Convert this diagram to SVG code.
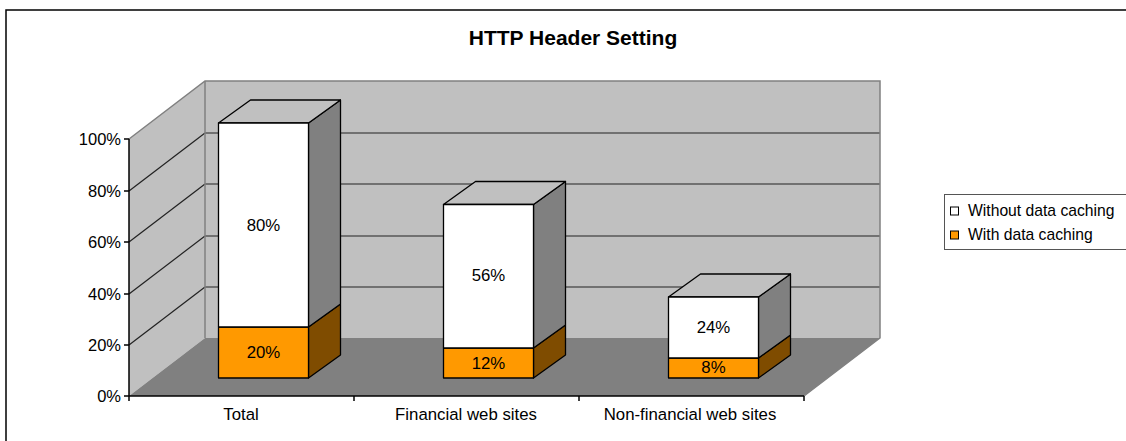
<svg xmlns="http://www.w3.org/2000/svg" width="1126" height="441" viewBox="0 0 1126 441">
  <style>
    text { font-family: "Liberation Sans", Arial, sans-serif; fill: #000; }
    .title { font-size: 21px; font-weight: bold; text-anchor: middle; }
    .ax { font-size: 16.5px; text-anchor: end; }
    .cat { font-size: 16.8px; text-anchor: middle; }
    .val { font-size: 16.8px; text-anchor: middle; }
    .leg { font-size: 15.7px; }
    .edge { stroke: #808080; stroke-width: 1.5; fill: none; }
    .grid { stroke: #222; stroke-width: 1.2; fill: none; }
    .axis { stroke: #000; stroke-width: 1.5; fill: none; }
    .bar { stroke: #000; stroke-width: 1.3; stroke-linejoin: round; }
    .white { fill: #ffffff; }
    .orange { fill: #ff9900; }
    .side { fill: #808080; }
    .sideO { fill: #7f4c00; }
    .top { fill: #c0c0c0; }
  </style>

  <!-- chart frame -->
  <rect x="6" y="10" width="1200" height="500" fill="#fff" stroke="#000" stroke-width="1.5"/>

  <text class="title" x="573" y="45">HTTP Header Setting</text>

  <!-- plot area: walls and floor -->
  <g id="plot">
    <polygon points="129,139 205,81 205,338 129,396" fill="#c0c0c0"/>
    <rect x="205" y="81" width="675" height="257" fill="#c0c0c0"/>
    <polygon points="129,396 804,396 880,338 205,338" fill="#808080"/>

    <!-- gridlines on the side wall -->
    <g class="grid">
      <line x1="129" y1="191" x2="205" y2="133"/>
      <line x1="129" y1="242" x2="205" y2="184"/>
      <line x1="129" y1="294" x2="205" y2="236"/>
      <line x1="129" y1="345" x2="205" y2="287"/>
    </g>
    <!-- gridlines on the back wall -->
    <g class="grid">
      <line x1="205" y1="133" x2="880" y2="133"/>
      <line x1="205" y1="184" x2="880" y2="184"/>
      <line x1="205" y1="236" x2="880" y2="236"/>
      <line x1="205" y1="287" x2="880" y2="287"/>
    </g>
    <!-- wall edges -->
    <polyline class="edge" points="129,139 205,81 880,81 880,338 804,396"/>
    <line class="edge" x1="205" y1="81" x2="205" y2="338"/>

    <!-- axes -->
    <line class="axis" x1="129" y1="139" x2="129" y2="396"/>
    <line class="axis" x1="129" y1="396" x2="804" y2="396"/>
    <g class="axis">
      <line x1="124" y1="139" x2="129" y2="139"/>
      <line x1="124" y1="191" x2="129" y2="191"/>
      <line x1="124" y1="242" x2="129" y2="242"/>
      <line x1="124" y1="294" x2="129" y2="294"/>
      <line x1="124" y1="345" x2="129" y2="345"/>
      <line x1="124" y1="396" x2="129" y2="396"/>
      <line x1="129" y1="396" x2="129" y2="401"/>
      <line x1="354" y1="396" x2="354" y2="401"/>
      <line x1="579" y1="396" x2="579" y2="401"/>
      <line x1="804" y1="396" x2="804" y2="401"/>
    </g>
    <text class="ax" x="121" y="145">100%</text>
    <text class="ax" x="121" y="197">80%</text>
    <text class="ax" x="121" y="248">60%</text>
    <text class="ax" x="121" y="300">40%</text>
    <text class="ax" x="121" y="351">20%</text>
    <text class="ax" x="121" y="402">0%</text>

    <text class="cat" x="241" y="420">Total</text>
    <text class="cat" x="466" y="420">Financial web sites</text>
    <text class="cat" x="690" y="420">Non-financial web sites</text>
  </g>

  <!-- Total: 20% / 80% -->
  <g id="bar-total">
    <polygon class="bar sideO" points="308.5,378 340.5,355 340.5,304 308.5,327"/>
    <polygon class="bar side" points="308.5,327 340.5,304 340.5,100 308.5,123"/>
    <polygon class="bar top" points="218.5,123 250.5,100 340.5,100 308.5,123"/>
    <rect class="bar orange" x="218.5" y="327" width="90" height="51"/>
    <rect class="bar white" x="218.5" y="123" width="90" height="204"/>
    <text class="val" x="263.5" y="231">80%</text>
    <text class="val" x="263.5" y="358">20%</text>
  </g>

  <!-- Financial web sites: 12% / 56% -->
  <g id="bar-financial">
    <polygon class="bar sideO" points="533.5,378 565.5,355 565.5,325 533.5,348"/>
    <polygon class="bar side" points="533.5,348 565.5,325 565.5,181.5 533.5,204.5"/>
    <polygon class="bar top" points="443.5,204.5 475.5,181.5 565.5,181.5 533.5,204.5"/>
    <rect class="bar orange" x="443.5" y="348" width="90" height="30"/>
    <rect class="bar white" x="443.5" y="204.5" width="90" height="143.5"/>
    <text class="val" x="488.5" y="281">56%</text>
    <text class="val" x="488.5" y="368.5">12%</text>
  </g>

  <!-- Non-financial web sites: 8% / 24% -->
  <g id="bar-nonfinancial">
    <polygon class="bar sideO" points="758.5,378 790.5,355 790.5,335 758.5,358"/>
    <polygon class="bar side" points="758.5,358 790.5,335 790.5,274 758.5,297"/>
    <polygon class="bar top" points="668.5,297 700.5,274 790.5,274 758.5,297"/>
    <rect class="bar orange" x="668.5" y="358" width="90" height="20"/>
    <rect class="bar white" x="668.5" y="297" width="90" height="61"/>
    <text class="val" x="713.5" y="332.5">24%</text>
    <text class="val" x="713.5" y="372.5">8%</text>
  </g>

  <!-- legend -->
  <g id="legend">
    <rect x="944.5" y="194.5" width="300" height="55" fill="#fff" stroke="#555" stroke-width="1"/>
    <rect x="950.5" y="207" width="8" height="8" fill="#fff" stroke="#000" stroke-width="1"/>
    <text class="leg" x="968" y="215.5">Without data caching</text>
    <rect x="950.5" y="231" width="8" height="8" fill="#ff9900" stroke="#000" stroke-width="1"/>
    <text class="leg" x="968" y="239.5">With data caching</text>
  </g>
</svg>
